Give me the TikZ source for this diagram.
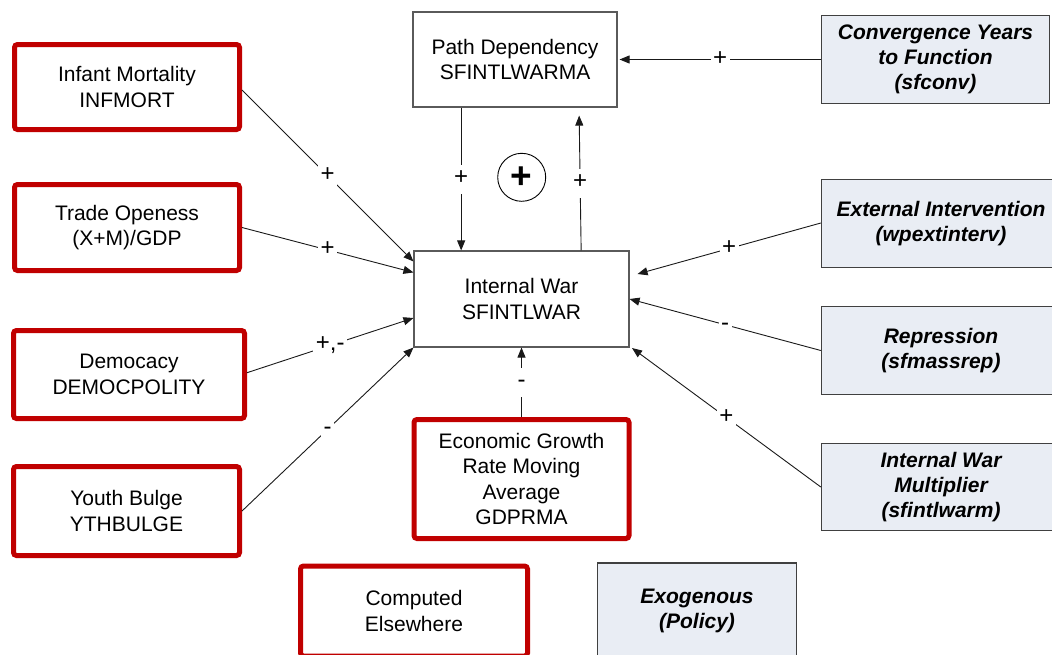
\documentclass[tikz,border=0pt]{standalone}
\usepackage{fontspec}
\setmainfont{Liberation Sans}
\usetikzlibrary{arrows.meta,calc}
\definecolor{boxred}{HTML}{C00000}
\definecolor{policyfill}{HTML}{E9EDF4}
\definecolor{edgegray}{HTML}{404040}
\definecolor{framegray}{HTML}{5A5A5A}
\begin{document}
\begin{tikzpicture}[x=1pt,y=-1pt,
  every node/.style={font=\fontsize{21}{25.3}\selectfont, text=black},
  computed/.style={draw=boxred, line width=5pt, rounded corners=3pt, fill=white, align=center, inner sep=0pt},
  plainbox/.style={draw=framegray, line width=1.1pt, fill=white, align=center, inner sep=0pt},
  policy/.style={draw=edgegray, line width=1.4pt, fill=policyfill, align=center, inner sep=0pt,
                 font=\fontsize{21}{25.3}\selectfont\bfseries\itshape},
  link/.style={draw=black!90, line width=0.9pt, -{Triangle[length=10pt,width=8pt]}},
  sign/.style={fill=white, inner xsep=2.5pt, inner ysep=3pt, text height=17pt, text depth=6pt,
               font=\fontsize{24}{24}\selectfont}
]
\useasboundingbox (0,0) rectangle (1052,654);

% central loop
\node[plainbox, minimum width=204pt, minimum height=95pt] (pd) at (515,59.5) {Path Dependency\\SFINTLWARMA};
\node[plainbox, minimum width=215pt, minimum height=96pt] (iw) at (521.5,299) {Internal War\\SFINTLWAR};
\node[draw=black, line width=0.9pt, circle, minimum size=48pt, inner sep=0pt] (loop) at (521.7,177.3)
  {\fontsize{37}{37}\selectfont\bfseries +};

% variables computed elsewhere
\node[computed, minimum width=225pt, minimum height=85pt] (inf) at (127,87) {Infant Mortality\\INFMORT};
\node[computed, minimum width=225pt, minimum height=86pt] (trade) at (127,227.5) {Trade Openess\\(X+M)/GDP};
\node[computed, minimum width=231pt, minimum height=88pt] (demo) at (129,374.5) {Democacy\\DEMOCPOLITY};
\node[computed, minimum width=226pt, minimum height=89pt] (youth) at (126.5,511) {Youth Bulge\\YTHBULGE};
\node[computed, minimum width=215pt, minimum height=119pt] (econ) at (521.5,479) {Economic Growth\\Rate Moving\\Average\\GDPRMA};
\node[computed, minimum width=227pt, minimum height=90pt] (comp) at (414,611) {Computed\\Elsewhere};

% exogenous policy variables
\node[policy, minimum width=228pt, minimum height=88pt] (conv) at (935.5,59.5) {Convergence Years\\to Function\\(sfconv)};
\node[policy, minimum width=239pt, minimum height=88pt] (ext) at (941,223.5) {External Intervention\\(wpextinterv)};
\node[policy, minimum width=239pt, minimum height=88pt] (rep) at (941,350.5) {Repression\\(sfmassrep)};
\node[policy, minimum width=239pt, minimum height=87pt] (mult) at (941,487) {Internal War\\Multiplier\\(sfintlwarm)};
\node[policy, minimum width=199pt, minimum height=96pt] (exo) at (697,611) {Exogenous\\(Policy)};

% connectors
\draw[link] ([xshift=48.7pt]pd.south west) -- ([xshift=47.7pt]iw.north west) node[sign,midway]{+};
\draw[link] ([xshift=167.7pt]iw.north west) -- ([xshift=166.7pt,yshift=-8pt]pd.south west) node[sign,midway]{+};
\draw[link] (conv.west) -- ([xshift=2pt]conv.west -| pd.east) node[sign,midway]{+};
\draw[link] ([yshift=-3pt]inf.east) -- ([yshift=-11pt]iw.north west) node[sign,midway]{+};
\draw[link] (trade.east) -- ([yshift=-22pt]iw.north west) node[sign,midway]{+};
\draw[link] ([yshift=1.8pt]demo.east) -- ([yshift=-19pt]iw.west) node[sign,midway]{+,-};
\draw[link] (youth.east) -- (iw.south west) node[sign,midway]{-};
\draw[link] (econ.north) -- (iw.south) node[sign,midway]{-};
\draw[link] ([yshift=0.5pt]ext.west) -- ([xshift=8pt,yshift=25pt]iw.east) node[sign,midway]{+};
\draw[link] (rep.west) -- (iw.east) node[sign,midway]{-};
\draw[link] (mult.west) -- ([xshift=2.5pt,yshift=-0.5pt]iw.south east) node[sign,midway]{+};
\end{tikzpicture}
\end{document}
